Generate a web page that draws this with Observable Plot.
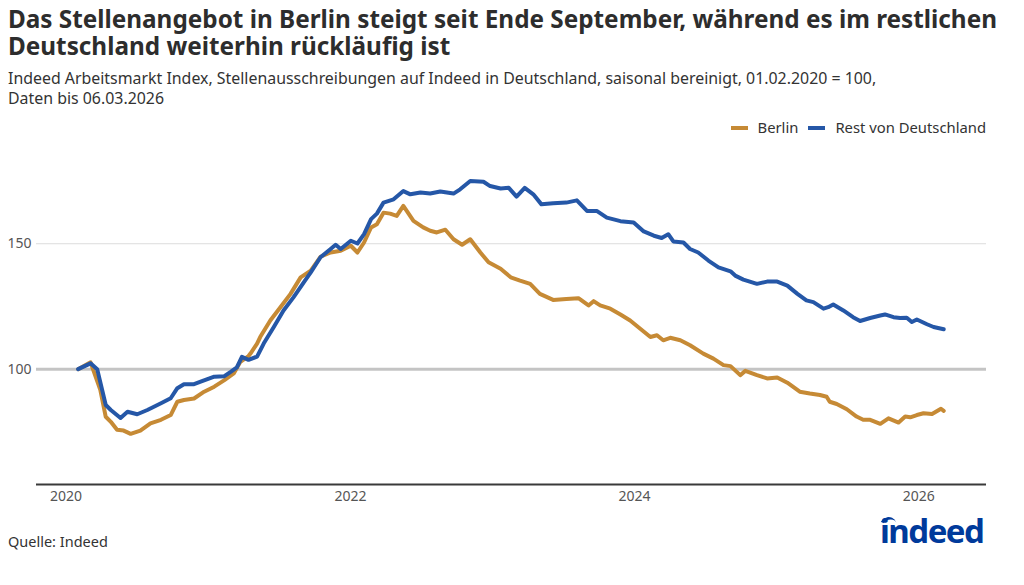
<!DOCTYPE html>
<html lang="de"><head><meta charset="utf-8">
<script src="https://cdn.jsdelivr.net/npm/d3@7"></script>
<script src="https://cdn.jsdelivr.net/npm/@observablehq/plot@0.6"></script>
<style>
body{margin:0;width:1024px;height:585px;position:relative;font-family:"Noto Sans",sans-serif;background:#fff;overflow:hidden}
#title{position:absolute;left:8px;top:6px;font-size:24.3px;font-weight:700;line-height:26.5px;color:#2d2d2d;width:1014px}
#subtitle{position:absolute;left:8px;top:68px;font-size:15.9px;line-height:20px;color:#333;width:1010px}
#legend{position:absolute;right:38px;top:117px;font-size:14.8px;line-height:20px;color:#333;display:flex;gap:10px;align-items:center}
#legend span.sw{display:inline-block;width:17px;height:4px;margin-right:10px;vertical-align:middle;position:relative;top:-1px}
#chart{position:absolute;left:0;top:150px}
#caption{position:absolute;left:8px;top:531px;font-size:14.5px;line-height:20px;color:#333}
#logo{position:absolute;left:880px;top:513px;font-size:33px;font-weight:700;color:#003a9b;letter-spacing:-1.5px;line-height:36px}
#arc{position:absolute;left:880px;top:517px;width:14px;height:14px;border-top:3px solid #003a9b;border-left:3px solid transparent;border-radius:50%;transform:rotate(-20deg)}
</style></head>
<body>
<div id="title">Das Stellenangebot in Berlin steigt seit Ende September, während es im restlichen Deutschland weiterhin rückläufig ist</div>
<div id="subtitle">Indeed Arbeitsmarkt Index, Stellenausschreibungen auf Indeed in Deutschland, saisonal bereinigt, 01.02.2020 = 100,<br>Daten bis 06.03.2026</div>
<div id="legend"></div>
<div id="chart"></div>
<div id="caption">Quelle: Indeed</div>
<div id="logo">indeed</div>
<script>
const seriesNames = ["Berlin", "Rest von Deutschland"];
const seriesColors = ["#c68a35", "#2557a7"];
const yTicks = [100, 150];
const xTickYears = ["2020-01-01", "2022-01-01", "2024-01-01", "2026-01-01"];

const berlinDates = ["2020-02-01","2020-03-04","2020-03-29","2020-04-12","2020-04-25","2020-05-11","2020-05-28","2020-06-15","2020-07-10","2020-08-05","2020-09-01","2020-09-26","2020-10-13","2020-10-30","2020-11-25","2020-12-21","2021-01-16","2021-02-11","2021-03-07","2021-03-24","2021-04-14","2021-04-19","2021-05-06","2021-05-14","2021-06-09","2021-07-05","2021-07-31","2021-08-26","2021-09-21","2021-10-16","2021-11-11","2021-12-07","2022-01-02","2022-01-19","2022-02-05","2022-02-23","2022-03-10","2022-03-27","2022-04-13","2022-04-30","2022-05-17","2022-06-12","2022-07-07","2022-07-25","2022-08-11","2022-09-02","2022-09-23","2022-10-15","2022-11-05","2022-12-01","2022-12-22","2023-01-22","2023-02-17","2023-03-13","2023-04-08","2023-05-03","2023-06-06","2023-07-10","2023-08-10","2023-09-05","2023-09-18","2023-10-05","2023-10-31","2023-11-26","2023-12-21","2024-01-16","2024-02-11","2024-02-28","2024-03-15","2024-04-02","2024-04-28","2024-05-23","2024-06-26","2024-07-22","2024-08-17","2024-09-04","2024-09-29","2024-10-12","2024-11-11","2024-12-07","2025-01-02","2025-01-28","2025-03-01","2025-03-27","2025-04-22","2025-05-09","2025-05-17","2025-06-04","2025-06-30","2025-07-25","2025-08-11","2025-08-29","2025-09-24","2025-10-15","2025-11-10","2025-11-27","2025-12-10","2025-12-27","2026-01-13","2026-02-04","2026-02-27","2026-03-06"];
const berlinValues = [100,102.7,91.7,81,79,75.8,75.5,74.2,75.5,78.4,79.8,81.7,87,87.7,88.3,91,93,95.6,98.3,102.9,105.2,106.2,110.2,112.8,119.4,124.7,130,136.6,139.3,144.8,146.5,147.2,149.2,146.5,150.5,156.5,157.8,162.4,162,161.1,165.1,159.1,156.5,155.2,154.5,155.6,151.8,149.6,151.8,146.5,142.6,140,136.6,135.3,134,130,127.6,128,128.3,125.4,127.1,125.4,124.1,121.8,119.4,116.1,112.8,113.5,111.5,112.5,111.5,109.5,106.2,104.2,101.6,101.2,97.6,99.3,97.6,96.3,96.7,94.6,91,90.3,89.7,89,87,86.1,84,81.1,79.8,79.8,78.2,80.4,78.7,81.1,80.8,81.7,82.4,82.1,84.2,83.4];

const restDates = ["2020-02-01","2020-03-04","2020-03-21","2020-04-12","2020-04-25","2020-05-20","2020-06-07","2020-07-02","2020-07-28","2020-09-01","2020-09-26","2020-10-13","2020-10-30","2020-11-25","2020-12-12","2021-01-16","2021-02-11","2021-02-28","2021-03-15","2021-03-28","2021-04-14","2021-05-06","2021-05-23","2021-06-18","2021-07-13","2021-08-08","2021-09-03","2021-09-21","2021-10-16","2021-11-11","2021-11-24","2021-12-07","2022-01-02","2022-01-19","2022-02-05","2022-02-23","2022-03-10","2022-03-27","2022-04-22","2022-05-17","2022-06-04","2022-06-30","2022-07-25","2022-08-20","2022-09-23","2022-10-10","2022-11-05","2022-12-09","2022-12-26","2023-01-22","2023-02-12","2023-03-04","2023-03-25","2023-04-16","2023-05-07","2023-06-06","2023-07-10","2023-08-06","2023-09-01","2023-09-26","2023-10-22","2023-11-26","2023-12-30","2024-01-25","2024-02-20","2024-03-11","2024-03-28","2024-04-10","2024-05-06","2024-05-23","2024-06-13","2024-07-09","2024-08-04","2024-09-04","2024-09-16","2024-10-07","2024-11-11","2024-12-07","2025-01-02","2025-01-28","2025-02-23","2025-03-18","2025-04-05","2025-05-01","2025-05-13","2025-05-26","2025-06-21","2025-07-16","2025-08-03","2025-08-29","2025-09-24","2025-10-06","2025-10-28","2025-11-14","2025-12-01","2025-12-14","2025-12-27","2026-01-22","2026-02-08","2026-03-06"];
const restValues = [100,102.3,100,85.7,83.7,80.5,83,82,83.7,86.4,88.4,92.4,94,94,95,97,97.2,99,100.7,104.9,103.7,105,110.2,116.8,123.4,128.7,134.6,138.6,144.6,147.9,149.6,147.9,151.2,150.1,153.8,159.8,162,166.4,167.7,171,169.7,170.4,170,170.8,170,171.7,175,174.7,173,172,172.3,168.8,172.3,169.7,165.7,166.1,166.4,167.3,163.1,163.1,160.4,159,158.5,154.9,153.2,152.3,153.8,150.9,150.5,147.9,146.5,143.3,140.6,139,137.3,135.7,134,134.9,134.9,133.3,130,127.4,126.7,124.1,124.7,125.8,123.4,120.7,119.2,120.4,121.4,121.8,120.7,120.4,120.5,118.8,119.8,117.9,116.8,115.9];

const data = [
  ...berlinDates.map((d, i) => ({series: seriesNames[0], date: new Date(d), value: berlinValues[i]})),
  ...restDates.map((d, i) => ({series: seriesNames[1], date: new Date(d), value: restValues[i]}))
];

const legend = document.getElementById("legend");
seriesNames.forEach((n, i) => {
  const item = document.createElement("div");
  item.innerHTML = `<span class="sw" style="background:${seriesColors[i]}"></span>${n}`;
  legend.appendChild(item);
});

const chart = Plot.plot({
  width: 1024, height: 364,
  marginLeft: 36, marginRight: 38, marginTop: 18, marginBottom: 30,
  style: {fontFamily: "Noto Sans, sans-serif", fontSize: "14px", color: "#555", background: "transparent"},
  x: {type: "utc", domain: [new Date("2019-10-17"), new Date("2026-06-24")]},
  y: {domain: [54, 180]},
  color: {domain: seriesNames, range: seriesColors},
  marks: [
    Plot.gridY(yTicks.filter(t => t !== 100), {stroke: "#dcdcdc", strokeOpacity: 1, strokeWidth: 1}),
    Plot.ruleY([100], {stroke: "#c4c4c4", strokeWidth: 3}),
    Plot.ruleY([54], {stroke: "#3a3a3a", strokeWidth: 2}),
    Plot.axisY({ticks: yTicks, tickSize: 0, tickPadding: 5, label: null, fill: "#555"}),
    Plot.axisX({ticks: xTickYears.map(d => new Date(d)), tickFormat: d3.utcFormat("%Y"), tickSize: 0, tickPadding: 7, label: null, fill: "#555"}),
    Plot.lineY(data, {x: "date", y: "value", z: "series", stroke: "series", strokeWidth: 4, curve: "linear", strokeLinejoin: "round"})
  ]
});
document.getElementById("chart").appendChild(chart);
</script>
<div id="arc"></div>
</body></html>
